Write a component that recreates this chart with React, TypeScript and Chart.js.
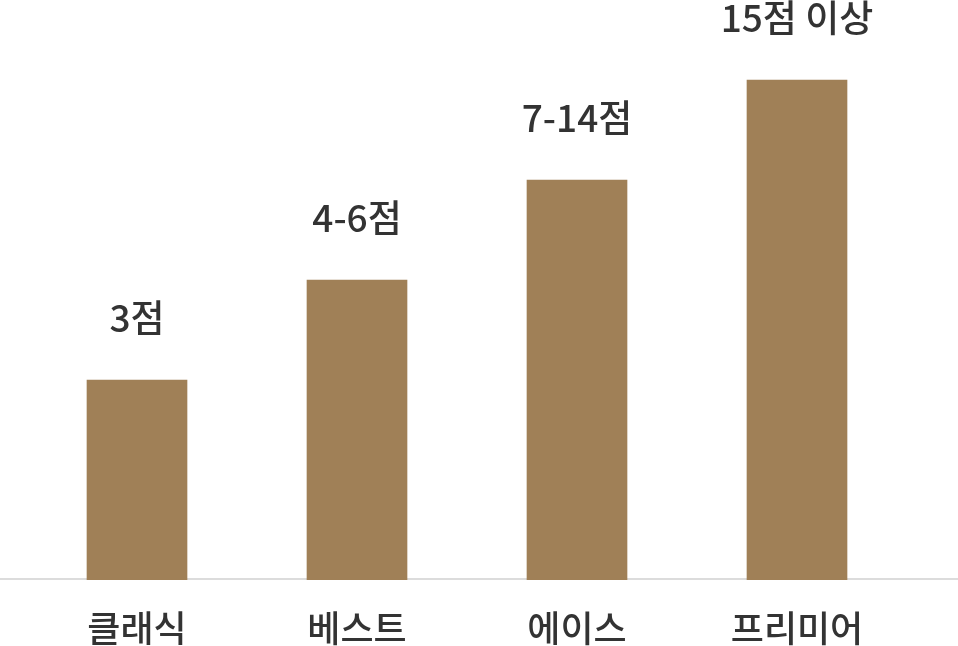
import React, { useEffect, useRef } from "react";
import { Chart, registerables } from "chart.js";

Chart.register(...registerables);

const categories = ["클래식", "베스트", "에이스", "프리미어"];
const values = [2, 3, 4, 5];
const valueLabels = ["3점", "4-6점", "7-14점", "15점 이상"];

const FONT = "'Noto Sans CJK KR', 'Noto Sans', sans-serif";
const BAR_COLOR = "#a08057";
const TEXT_COLOR = "#333333";

const baselinePlugin = {
  id: "baseline",
  beforeDatasetsDraw(chart: any) {
    const { ctx, chartArea, width } = chart;
    ctx.save();
    ctx.strokeStyle = "#dcdcdc";
    ctx.lineWidth = 2;
    ctx.beginPath();
    ctx.moveTo(0, chartArea.bottom - 1);
    ctx.lineTo(width, chartArea.bottom - 1);
    ctx.stroke();
    ctx.restore();
  },
};

const labelPlugin = {
  id: "valueLabels",
  afterDatasetsDraw(chart: any) {
    const { ctx } = chart;
    const meta = chart.getDatasetMeta(0);
    ctx.save();
    ctx.font = `500 37px ${FONT}`;
    ctx.fillStyle = TEXT_COLOR;
    ctx.textAlign = "center";
    ctx.textBaseline = "middle";
    meta.data.forEach((bar: any, i: number) => {
      ctx.fillText(valueLabels[i], bar.x, bar.y - 62);
    });
    ctx.restore();
  },
};

export default function App() {
  const ref = useRef<HTMLCanvasElement>(null);
  useEffect(() => {
    if (!ref.current) return;
    const chart = new Chart(ref.current, {
      type: "bar",
      data: {
        labels: categories,
        datasets: [
          {
            data: values,
            backgroundColor: BAR_COLOR,
            barThickness: 100,
          },
        ],
      },
      options: {
        responsive: false,
        animation: false,
        layout: { padding: { left: 27, right: 51, top: 0, bottom: 0 } },
        plugins: { legend: { display: false }, tooltip: { enabled: false } },
        scales: {
          x: {
            grid: { display: false, drawTicks: false },
            border: { display: false },
            afterFit(scale: any) {
              scale.height = 66;
            },
            ticks: {
              color: TEXT_COLOR,
              padding: 27,
              font: { family: FONT, size: 36, weight: "500" },
            },
          },
          y: { display: false, min: 0, max: 5.8 },
        },
      },
      plugins: [baselinePlugin, labelPlugin],
    });
    return () => chart.destroy();
  }, []);
  return (
    <div style={{ position: "absolute", left: 0, top: 0, width: 958, height: 646, background: "#fff" }}>
      <canvas ref={ref} width={958} height={646} />
    </div>
  );
}
